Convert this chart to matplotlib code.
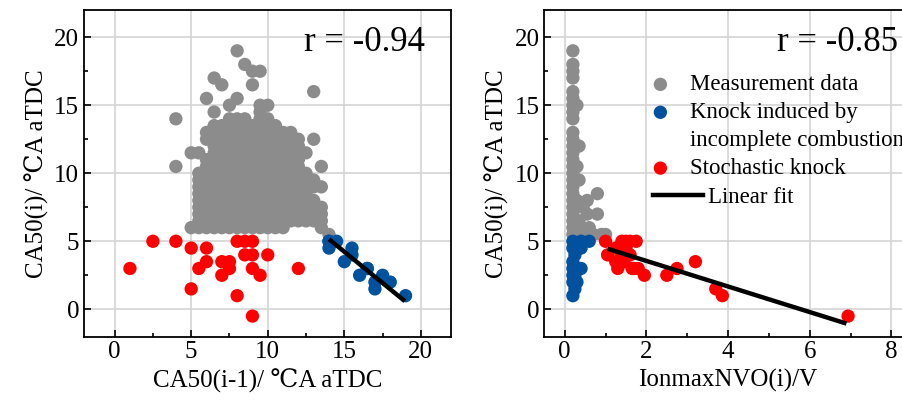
import matplotlib.pyplot as plt
from matplotlib.ticker import MultipleLocator
from matplotlib.lines import Line2D
import numpy as np

plt.rcParams['font.family'] = ['Liberation Serif', 'DejaVu Serif']
plt.rcParams['mathtext.fontset'] = 'stix'

GREY = '#8c8c8c'
BLUE = '#00529f'
RED = '#ff0000'

# measurement data, CA50(i) rows -> CA50(i-1) values
grey_rows = [
    (19.0, [8]),
    (18.0, [8.5]),
    (17.5, [9, 9.5]),
    (17.0, [6.5]),
    (16.5, [7, 9]),
    (16.0, [13]),
    (15.5, [6, 8]),
    (15.0, [7.5, 9.5, 10]),
    (14.5, [6.5, 9.5]),
    (14.0, [4, 7.5, 8, 8.5, 9.5, 10]),
    (13.5, [6.5, 7, 7.5, 8, 8.5, 9, 9.5, 10, 10.5]),
    (13.0, [6, 6.5, 7, 7.5, 8, 8.5, 9, 9.5, 10, 10.5, 11, 11.5]),
    (12.5, [6, 6.5, 7, 7.5, 8, 8.5, 9, 9.5, 10, 10.5, 11, 11.5, 12, 13]),
    (12.0, [6.5, 7, 7.5, 8, 8.5, 9, 9.5, 10, 10.5, 11, 11.5, 12]),
    (11.5, [5, 5.5, 6.5, 7, 7.5, 8, 8.5, 9, 9.5, 10, 10.5, 11, 11.5, 12, 12.5]),
    (11.0, [6, 6.5, 7, 7.5, 8, 8.5, 9, 9.5, 10, 10.5, 11, 11.5, 12]),
    (10.5, [4, 6, 6.5, 7, 7.5, 8, 8.5, 9, 9.5, 10, 10.5, 11, 11.5, 12, 13.5]),
    (10.0, [5.5, 6, 6.5, 7, 7.5, 8, 8.5, 9, 9.5, 10, 10.5, 11, 11.5, 12, 12.5]),
    (9.5, [5.5, 6, 6.5, 7, 7.5, 8, 8.5, 9, 9.5, 10, 10.5, 11, 11.5, 12, 12.5, 13]),
    (9.0, [5.5, 6, 6.5, 7, 7.5, 8, 8.5, 9, 9.5, 10, 10.5, 11, 11.5, 12, 12.5, 13, 13.5]),
    (8.5, [5.5, 6, 6.5, 7, 7.5, 8, 8.5, 9, 9.5, 10, 10.5, 11, 11.5, 12, 12.5]),
    (8.0, [5.5, 6, 6.5, 7, 7.5, 8, 8.5, 9, 9.5, 10, 10.5, 11, 11.5, 12, 12.5, 13]),
    (7.5, [5.5, 6, 6.5, 7, 7.5, 8, 8.5, 9, 9.5, 10, 10.5, 11, 11.5, 12, 12.5, 13, 13.5]),
    (7.0, [5.5, 6, 6.5, 7, 7.5, 8, 8.5, 9, 9.5, 10, 10.5, 11, 11.5, 12, 12.5, 13, 13.5]),
    (6.5, [5.5, 6, 6.5, 7, 7.5, 8, 8.5, 9, 9.5, 10, 10.5, 11, 11.5, 12, 12.5, 13, 13.5]),
    (6.0, [5, 5.5, 6, 6.5, 7, 7.5, 8, 8.5, 9, 9.5, 10, 10.5, 11, 13.5]),
    (5.5, [14]),
]

# measurement data against IonmaxNVO(i)
grey_ion_x = [0.2, 0.2, 0.2, 0.2, 0.2, 0.2, 0.2, 0.2, 0.2, 0.2, 0.2, 0.2, 0.2,
              0.2, 0.2, 0.2, 0.2, 0.2, 0.2, 0.2, 0.2, 0.2, 0.2, 0.2, 0.2,
              0.3, 0.3, 0.3, 0.35, 0.35, 0.3, 0.55, 0.8, 0.55, 0.8, 0.45,
              0.35, 0.4, 0.6, 0.5, 0.7, 0.9, 1.0]
grey_ion_y = [19, 18, 17.5, 17, 16, 15.5, 15, 14.5, 14, 13, 12.5, 12, 11.5,
              11, 10.5, 10, 9.5, 9, 8.5, 8, 7.5, 7, 6.5, 6, 5.5,
              15, 12, 10.5, 9.5, 12, 8, 8, 8.5, 7, 7, 7.5,
              6.5, 6, 6, 5.5, 5.5, 5.5, 5.5]

# knock induced by incomplete combustion
blue_y = [5, 5, 5, 4.5, 4.5, 4, 3.5, 3, 3, 2.5, 2.5, 2, 2, 1.5, 1]
blue_ca_x = [14, 14.5, 14, 14, 15.5, 15.5, 15, 16.5, 16.5, 16, 17.5, 17, 18, 17, 19]
blue_ion_x = [0.2, 0.4, 0.6, 0.2, 0.4, 0.25, 0.2, 0.2, 0.4, 0.25, 0.2, 0.2, 0.3, 0.25, 0.2]

# stochastic knock
red_y = [5, 5, 5, 5, 5, 4.5, 4.5, 4, 4, 4, 3.5, 3.5, 3.5,
         3, 3, 3, 3, 3, 2.5, 2.5, 1.5, 1, -0.5]
red_ca_x = [2.5, 4, 8, 8.5, 9, 5, 6, 8.5, 9, 10, 6, 7, 7.5,
            1, 5.5, 7.5, 9, 12, 7, 9.5, 5, 8, 9]
red_ion_x = [1.0, 1.4, 1.5, 1.6, 1.75, 1.25, 1.5, 1.05, 1.4, 1.6, 1.25, 1.45, 3.2,
             1.3, 1.65, 1.7, 1.8, 2.75, 1.95, 2.5, 3.7, 3.86, 6.94]

# linear fit end points
fit_ca_x = [14, 18.95]
fit_ca_y = [5.15, 0.6]
fit_ion_x = [1.05, 6.9]
fit_ion_y = [4.45, -1.05]

r_values = ['r = -0.94', 'r = -0.85']
legend_labels = ['Measurement data', 'Knock induced by', 'incomplete combustion',
                 'Stochastic knock', 'Linear fit']

grey_ca_x = [x for y, xs in grey_rows for x in xs]
grey_ca_y = [y for y, xs in grey_rows for x in xs]

fig = plt.figure(figsize=(9.03, 4.05), dpi=100)
ax1 = fig.add_axes([84 / 903, 68.5 / 405, 367.5 / 903, 326.5 / 405])
ax2 = fig.add_axes([544.3 / 903, 68.5 / 405, 367.5 / 903, 326.5 / 405])

ms = 92
handles = []
for ax, gx, gy, bx, rx, fx, fy in [
        (ax1, grey_ca_x, grey_ca_y, blue_ca_x, red_ca_x, fit_ca_x, fit_ca_y),
        (ax2, grey_ion_x, grey_ion_y, blue_ion_x, red_ion_x, fit_ion_x, fit_ion_y)]:
    hg = ax.scatter(gx, gy, s=ms, c=GREY, edgecolors='none', zorder=3)
    hb = ax.scatter(bx, blue_y, s=ms, c=BLUE, edgecolors='none', zorder=3)
    hr = ax.scatter(rx, red_y, s=ms, c=RED, edgecolors='none', zorder=3)
    ax.plot(fx, fy, color='black', lw=3.2, solid_capstyle='butt', zorder=4)
    handles = [hg, hb, hr]
    ax.set_ylim(-2, 22)
    ax.yaxis.set_major_locator(MultipleLocator(5))
    ax.yaxis.set_minor_locator(MultipleLocator(2.5))
    ax.grid(True, which='major', color='#d4d4d4', lw=1.2, zorder=0)
    ax.set_axisbelow(True)
    ax.tick_params(which='both', direction='in', labelsize=18,
                   top=False, right=False, width=1.2)
    ax.tick_params(which='major', length=5)
    ax.tick_params(which='minor', length=3)
    for sp in ax.spines.values():
        sp.set_linewidth(1.3)
    ax.set_ylabel('CA50(i)/ ℃A aTDC', fontsize=18, labelpad=4)

ax1.set_xlim(-2, 22)
ax1.xaxis.set_major_locator(MultipleLocator(5))
ax1.xaxis.set_minor_locator(MultipleLocator(2.5))
ax1.set_xlabel('CA50(i-1)/ ℃A aTDC', fontsize=18, labelpad=4)
ax1.text(12.4, 19.6, r_values[0], fontsize=25, ha='left', va='center')

ax2.set_xlim(-0.5, 8.5)
ax2.xaxis.set_major_locator(MultipleLocator(2))
ax2.xaxis.set_minor_locator(MultipleLocator(1))
ax2.set_xlabel('IonmaxNVO(i)/V', fontsize=18, labelpad=4)
ax2.text(5.19, 19.6, r_values[1], fontsize=25, ha='left', va='center')

# second line of the blue label gets an empty handle so the marker sits on line one
blank = Line2D([], [], linestyle='none', marker='')
leg = ax2.legend(handles=[handles[0], handles[1], blank, handles[2]],
                 labels=legend_labels[:4],
                 loc='upper left', bbox_to_anchor=(0.266, 0.831), frameon=False,
                 fontsize=16.5, handlelength=0.8, handletextpad=0.9,
                 labelspacing=0.3, borderaxespad=0, scatterpoints=1)
ax2.add_artist(leg)
ax2.legend(handles=[Line2D([], [], color='black', lw=3.2)], labels=legend_labels[4:],
           loc='upper left', bbox_to_anchor=(0.271, 0.487), frameon=False,
           fontsize=16.5, handlelength=2.2, handletextpad=0.2, borderaxespad=0)

fig.savefig('out.png', dpi=100)
